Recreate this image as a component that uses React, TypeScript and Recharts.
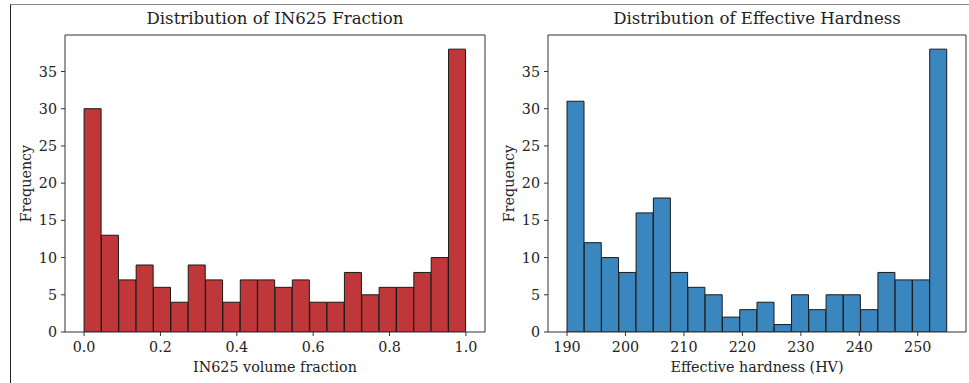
import { BarChart, Bar, XAxis, YAxis, Label, ReferenceLine } from "recharts";

const fracCounts = [30, 13, 7, 9, 6, 4, 9, 7, 4, 7, 7, 6, 7, 4, 4, 8, 5, 6, 6, 8, 10, 38];
const fracRange = [0, 1];
const fracTicks = [0, 0.2, 0.4, 0.6, 0.8, 1.0];

const hardCounts = [31, 12, 10, 8, 16, 18, 8, 6, 5, 2, 3, 4, 1, 5, 3, 5, 5, 3, 8, 7, 7, 38];
const hardRange = [190, 255];
const hardTicks = [190, 200, 210, 220, 230, 240, 250];

const freqTicks = [0, 5, 10, 15, 20, 25, 30, 35];

const FONT = "'DejaVu Serif', serif";
const INK = "#222";
const SPINE = "#333";

// turn counts into bins with their centre on the value axis
const toBins = (counts: number[], range: number[]) => {
  const w = (range[1] - range[0]) / counts.length;
  return counts.map((c, i) => ({ mid: range[0] + (i + 0.5) * w, count: c }));
};

interface HistProps {
  title: string;
  xLabel: string;
  counts: number[];
  range: number[];
  ticks: number[];
  fmt: (v: number) => string;
  color: string;
  left: number;
  width: number;
  marginLeft: number;
  marginRight: number;
}

const Histogram = ({ title, xLabel, counts, range, ticks, fmt, color, left, width, marginLeft, marginRight }: HistProps) => {
  const data = toBins(counts, range);
  const span = range[1] - range[0];
  const xDomain = [range[0] - span * 0.05, range[1] + span * 0.05];
  const yMax = Math.max(...counts) * 1.05;
  const tickStyle = { fontSize: 14.3, fill: INK, fontFamily: FONT };
  const labelStyle = { fontSize: 14.3, fill: INK, fontFamily: FONT };
  const plotLeft = marginLeft + 45;

  return (
    <div style={{ position: "absolute", left, top: 0, width, height: 383 }}>
      <div
        style={{
          position: "absolute",
          left: plotLeft,
          width: width - plotLeft - marginRight,
          top: 9,
          textAlign: "center",
          fontFamily: FONT,
          fontSize: 16.6,
          color: INK,
          lineHeight: "20px",
        }}
      >
        {title}
      </div>
      <BarChart
        width={width}
        height={383}
        data={data}
        margin={{ top: 35, right: marginRight, bottom: 11, left: marginLeft }}
        barCategoryGap={0}
        barGap={0}
      >
        <XAxis
          dataKey="mid"
          type="number"
          domain={xDomain}
          ticks={ticks}
          tickFormatter={fmt}
          allowDataOverflow
          height={40}
          tickSize={4}
          tickMargin={6}
          tick={tickStyle}
          stroke={SPINE}
          interval={0}
        >
          <Label value={xLabel} position="insideBottom" offset={0} style={labelStyle} />
        </XAxis>
        <YAxis
          type="number"
          domain={[0, yMax]}
          ticks={freqTicks}
          allowDataOverflow
          width={45}
          tickSize={4}
          tickMargin={4}
          tick={tickStyle}
          stroke={SPINE}
          interval={0}
        >
          <Label
            value="Frequency"
            angle={-90}
            position="insideLeft"
            offset={6}
            style={{ ...labelStyle, textAnchor: "middle" }}
          />
        </YAxis>
        <Bar dataKey="count" fill={color} stroke="#1a1a1a" strokeWidth={1} isAnimationActive={false} />
        {/* top and right spines */}
        <ReferenceLine y={yMax} stroke={SPINE} strokeWidth={1} />
        <ReferenceLine x={xDomain[1]} stroke={SPINE} strokeWidth={1} />
      </BarChart>
    </div>
  );
};

export default function App() {
  return (
    <div style={{ position: "absolute", left: 0, top: 0, width: 969, height: 383, background: "#fff", overflow: "hidden" }}>
      <div
        style={{
          position: "absolute",
          left: 10,
          top: 4,
          width: 959,
          height: 383,
          borderTop: "1px solid #888",
          borderLeft: "1px solid #222",
        }}
      />
      <Histogram
        title="Distribution of IN625 Fraction"
        xLabel="IN625 volume fraction"
        counts={fracCounts}
        range={fracRange}
        ticks={fracTicks}
        fmt={(v) => v.toFixed(1)}
        color="#c0373a"
        left={0}
        width={490}
        marginLeft={20}
        marginRight={5}
      />
      <Histogram
        title="Distribution of Effective Hardness"
        xLabel="Effective hardness (HV)"
        counts={hardCounts}
        range={hardRange}
        ticks={hardTicks}
        fmt={(v) => String(v)}
        color="#3a87c0"
        left={485}
        width={484}
        marginLeft={18}
        marginRight={3}
      />
    </div>
  );
}
